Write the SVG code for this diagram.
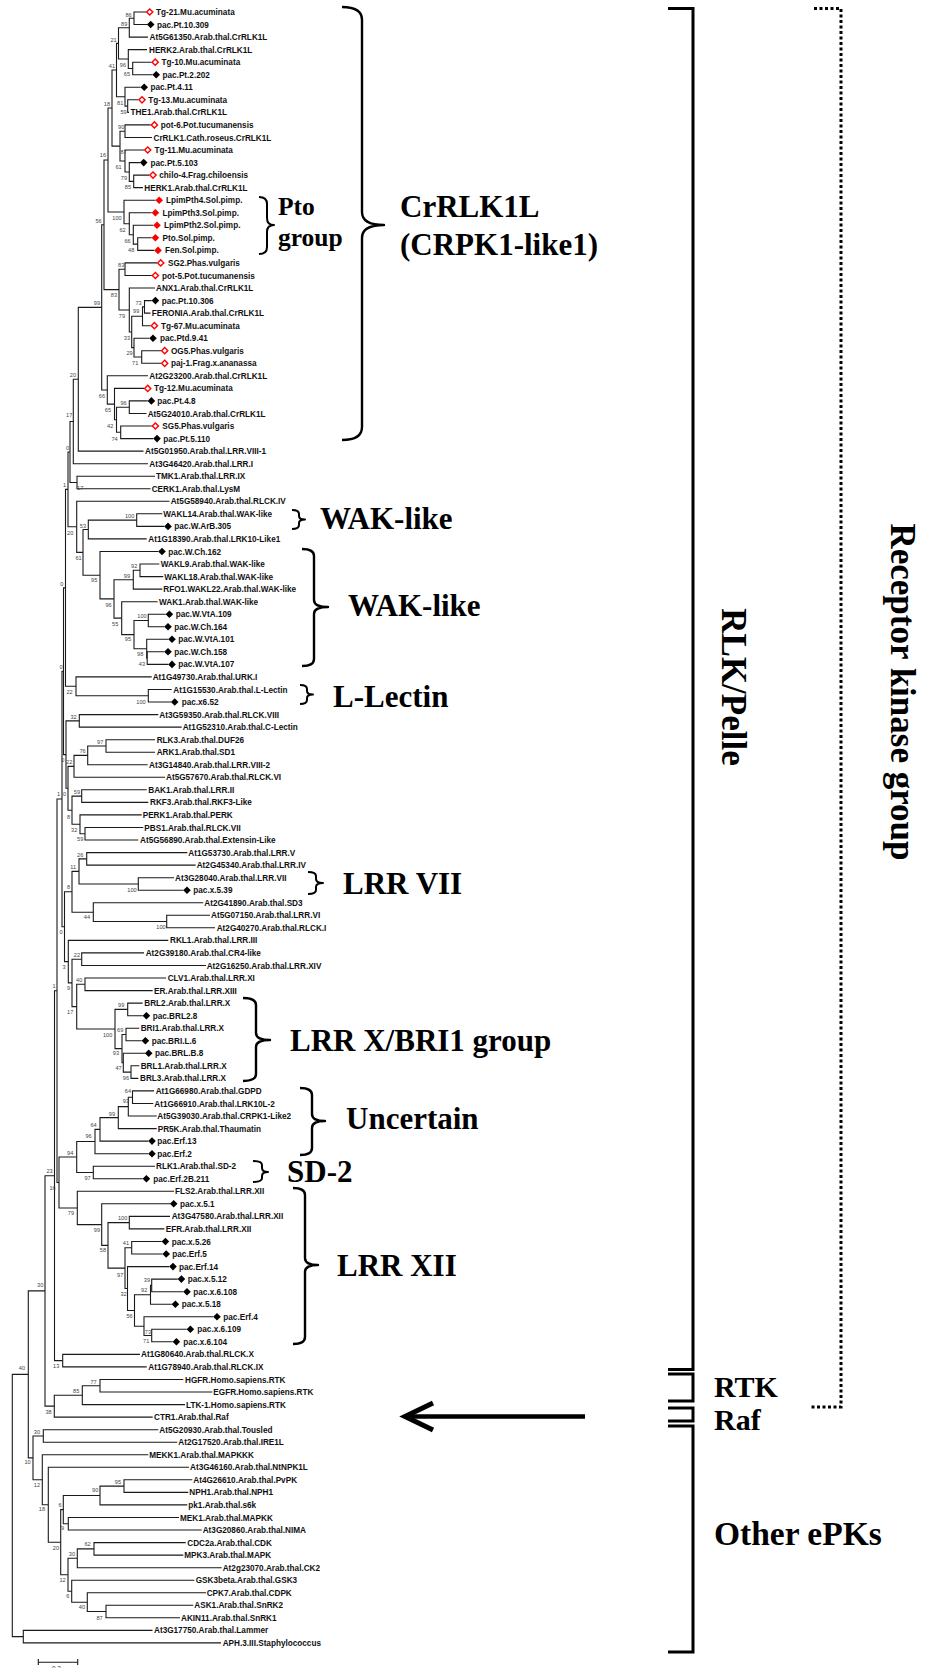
<svg xmlns="http://www.w3.org/2000/svg" width="930" height="1668" viewBox="0 0 930 1668">
<defs>
<style>
.br{fill:none;stroke:#1a1a1a;stroke-width:1.1}
.lf{font-family:"Liberation Sans",Arial,sans-serif;font-weight:bold;font-size:8.2px;fill:#111}
.bs{font-family:"Liberation Sans",Arial,sans-serif;font-size:5.6px;fill:#444;text-anchor:end}
.big{font-family:"Liberation Serif","Times New Roman",serif;font-weight:bold;font-size:31px;fill:#000}
.mid{font-size:25.5px}
.brace{fill:none;stroke:#000;stroke-width:2.4;stroke-linejoin:round}
.sq{fill:none;stroke:#000;stroke-width:3}
.dot{fill:none;stroke:#000;stroke-width:3;stroke-dasharray:3 2.5}
</style>
<path id="bk" d="M0,-3.8L3.8,0L0,3.8L-3.8,0Z" fill="#000"/>
<path id="rf" d="M0,-3.8L3.8,0L0,3.8L-3.8,0Z" fill="#ff0000"/>
<path id="ro" d="M0,-3.1L3.1,0L0,3.1L-3.1,0Z" fill="#fff" stroke="#ff0000" stroke-width="1.4"/>
</defs>
<rect width="930" height="1668" fill="#fff"/>
<g id="connectors" class="br">
<path d="M146,12H134V24.5H147"/><path d="M134,18.25H129.3V37.1H148"/><path d="M151.5,62.2H132.7V74.7H152.5"/><path d="M147,49.6H128.3V68.45H132.7"/><path d="M129.3,27.7H118.5V59H128.3"/><path d="M138.3,99.8H127.7V112.4H129"/><path d="M140.5,87.3H125V106.1H127.7"/><path d="M118.5,43.35H116.5V96.7H125"/><path d="M150.7,124.9H125V137.5H152"/><path d="M149.3,175.1H133.7V187.6H143"/><path d="M140,162.6H129.3V181.35H133.7"/><path d="M144,150H125V172H129.3"/><path d="M125,131.2H120V161H125"/><path d="M116.5,70H112V146.1H120"/>
<path d="M151.7,237.8H137.7V250.4H154.3"/><path d="M153.3,225.3H133.3V244.1H137.7"/><path d="M151.7,212.7H129.3V234.7H133.3"/><path d="M155.5,200.2H124V223.7H129.3"/><path d="M112,108.05H108V211.95H124"/>
<path d="M157,262.9H125V275.5H151.7"/><path d="M151.7,300.6H144.5V313.1H150.5"/><path d="M144.5,306.85H142.5V325.7H150.7"/><path d="M161,350.7H141.7V363.3H161"/><path d="M149.3,338.2H134V357H141.7"/><path d="M142.5,316.3H131.7V347.6H134"/><path d="M155,288H129.3V331.95H131.7"/><path d="M125,269.2H119V310H129.3"/><path d="M108,160H104V289.6H119"/>
<path d="M147.7,400.9H129.3V413.5H146.5"/><path d="M151.7,426H120.7V438.6H153.3"/><path d="M129.3,407.2H116.5V432.3H120.7"/><path d="M144,388.4H114.5V419.75H116.5"/><path d="M148,375.8H107.3V404.1H114.5"/><path d="M104,224.8H101.7V389.95H107.3"/>
<path d="M101.7,307.4H78.3V451.1H143.5"/><path d="M78.3,379.25H73.3V463.7H148"/><path d="M155,476.2H77V488.7H150.5"/><path d="M73.3,421.5H70V482.45H77"/>
<path d="M162.3,513.8H136.7V526.4H164.3"/><path d="M136.7,520.1H88.3V538.9H146.7"/><path d="M159.3,564H140V576.6H163.3"/><path d="M140,570.3H133.3V589.1H162.3"/><path d="M165.7,614.2H148.3V626.8H164.3"/><path d="M164.3,651.8H147.2V664.4H168.3"/><path d="M168.3,639.3H146.7V658.1H147.2"/><path d="M148.3,620.5H134V648.7H146.7"/><path d="M157.7,601.7H121.7V634.6H134"/><path d="M133.3,579.7H114V618.15H121.7"/><path d="M158.3,551.5H100V598.9H114"/><path d="M88.3,529.5H83V575.2H100"/><path d="M169.5,501.3H76.7V552.35H83"/><path d="M70,451.98H68V526.8H76.7"/>
<path d="M171.7,689.5H148.3V702H171"/><path d="M151.7,676.9H76V695.75H148.3"/><path d="M68,489.4H65.5V686.3H76"/>
<path d="M158.3,714.6H79.3V727.1H181.7"/><path d="M155,739.7H106V752.2H155"/><path d="M106,745.95H87.7V764.8H147.7"/><path d="M87.7,755.4H74V777.3H165"/><path d="M146.7,789.8H81.7V802.4H148.3"/><path d="M143.3,827.5H85V840H138.3"/><path d="M141.7,814.9H80V833.75H85"/><path d="M81.7,796.1H72V824.3H80"/><path d="M74,766.35H68V810.2H72"/><path d="M79.3,720.85H66V788.3H68"/><path d="M65.5,587.85H63.5V754.6H66"/>
<path d="M187.3,852.6H86.7V865.1H195.7"/><path d="M174,877.7H138.3V890.2H183.3"/><path d="M86.7,858.85H79V883.95H138.3"/><path d="M210,915.3H166.7V927.8H215"/><path d="M203.3,902.8H93.3V921.55H166.7"/><path d="M79,871.4H72V912.2H93.3"/>
<path d="M144,952.9H81.7V965.5H206"/><path d="M166,978H85V990.6H152.7"/><path d="M142.7,1003.1H127.7V1015.7H142.7"/><path d="M139.3,1028.2H126V1040.8H141.7"/><path d="M139.3,1065.8H131V1078.4H138.3"/><path d="M145,1053.3H123.3V1072.1H131"/><path d="M126,1034.5H122V1062.7H123.3"/><path d="M127.7,1009.4H115V1048.6H122"/><path d="M85,984.3H76.7V1029H115"/><path d="M81.7,959.2H72V1006.65H76.7"/><path d="M168.3,940.4H68.3V982.9H72"/><path d="M72,891.8H64.5V961.65H68.3"/><path d="M63.5,671.2H62V926.7H64.5"/>
<path d="M154,1090.9H132.5V1103.5H153.3"/><path d="M132.5,1097.2H128.3V1116H156.7"/><path d="M128.3,1106.6H118.3V1128.6H156.7"/><path d="M118.3,1117.6H100V1141.1H148.3"/><path d="M100,1129.35H95V1153.7H148.3"/><path d="M155,1166.2H93.3V1178.8H142.7"/><path d="M95,1141.5H76.7V1172.5H93.3"/>
<path d="M170,1216.4H129.3V1228.9H164.3"/><path d="M161.7,1241.5H131.7V1254H162.5"/><path d="M177.7,1279.1H151.7V1291.7H183.3"/><path d="M151.7,1285.4H150.5V1304.2H171.7"/><path d="M186.7,1329.3H151.7V1341.8H172.7"/><path d="M213.3,1316.8H144V1335.55H151.7"/><path d="M150.5,1294.8H134.5V1326.2H144"/><path d="M169.3,1266.6H127.5V1310.5H134.5"/><path d="M131.7,1247.75H125V1288.55H127.5"/><path d="M129.3,1222.65H108V1268.15H125"/><path d="M170,1203.8H101.7V1245.4H108"/><path d="M174,1191.3H77.3V1224.6H101.7"/><path d="M76.7,1157H59V1207.95H77.3"/><path d="M62,798.95H57V1182.5H59"/>
<path d="M140,1354.4H62.7V1366.9H146.7"/><path d="M57,990.7H54.5V1360.65H62.7"/>
<path d="M183.3,1379.5H100V1392H212.3"/><path d="M100,1385.75H82.3V1404.6H185"/><path d="M82.3,1395.2H54.3V1417.1H152.7"/><path d="M54.5,1175.7H45V1406.15H54.3"/>
<path d="M158.3,1429.7H43.3V1442.2H177.3"/><path d="M192.3,1479.8H124V1492.4H188.3"/><path d="M124,1486.1H100V1504.9H187.3"/><path d="M179,1517.5H68.3V1530H201.7"/><path d="M100,1495.5H63.3V1523.75H68.3"/><path d="M185.7,1542.6H94V1555.1H183.3"/><path d="M94,1548.85H77.3V1567.7H221.7"/><path d="M193.3,1605.3H106V1617.8H180"/><path d="M206,1592.8H87.3V1611.55H106"/><path d="M194.3,1580.2H71.7V1602.2H87.3"/><path d="M77.3,1558.3H68V1591.2H71.7"/><path d="M63.3,1509.6H60.7V1574.75H68"/><path d="M189,1467.3H48.3V1542.2H60.7"/><path d="M148.3,1454.8H42.3V1504.75H48.3"/><path d="M43.3,1435.95H33V1479.8H42.3"/><path d="M45,1290.9H28.3V1457.9H33"/>
<path d="M152.5,1630.4H23.3V1642.9H221"/><path d="M28.3,1374.4H12.3V1636.65H23.3"/>
<path d="M38.3,1659V1665M38.3,1662.3H77.7M77.7,1659V1665"/>
</g>
<g id="bootstrap" class="bs">
<text x="131.7" y="17">86</text><text x="127.3" y="26">89</text><text x="116.7" y="42">21</text><text x="115" y="68">41</text><text x="126" y="67">96</text><text x="130" y="76">65</text><text x="110" y="106">18</text><text x="123.3" y="104.7">81</text><text x="126.7" y="113.7">59</text><text x="124.3" y="129">90</text><text x="106" y="157">16</text><text x="126.7" y="153.7">87</text><text x="121.7" y="168.7">61</text><text x="127" y="180">79</text><text x="131" y="188.7">85</text><text x="101.7" y="222.7">56</text><text x="121.7" y="219.7">100</text><text x="125.7" y="231.7">62</text><text x="130.7" y="242.7">66</text><text x="134.3" y="252">48</text><text x="124.3" y="267">83</text><text x="117" y="296.7">83</text><text x="100" y="305">99</text><text x="141.7" y="305">73</text><text x="139.3" y="313.3">99</text><text x="125" y="317.7">79</text><text x="130" y="340">33</text><text x="132.7" y="355">29</text><text x="138.3" y="365">71</text><text x="76" y="377.3">20</text><text x="126.7" y="405.3">96</text><text x="105" y="397.7">66</text><text x="111" y="412">65</text><text x="72.3" y="417.3">17</text><text x="113.3" y="428">42</text><text x="117.7" y="440.7">74</text><text x="69" y="450">0</text><text x="66" y="487.3">1</text><text x="83.3" y="489.7">17</text><text x="134.3" y="518">100</text><text x="86" y="528.3">53</text><text x="73.3" y="535">20</text><text x="81.7" y="559.7">61</text><text x="137.3" y="568">92</text><text x="130" y="578">99</text><text x="63.3" y="586.3">0</text><text x="97.3" y="582.3">95</text><text x="111.7" y="607">96</text><text x="146.7" y="618">100</text><text x="118.3" y="626.3">55</text><text x="131" y="641.3">95</text><text x="143.3" y="655.7">98</text><text x="145" y="665.7">43</text><text x="62.7" y="669">0</text><text x="72.7" y="693.7">22</text><text x="145.7" y="703.7">100</text><text x="76.7" y="718.7">32</text><text x="103.3" y="743.7">97</text><text x="85.7" y="753">76</text><text x="64.3" y="762">0</text><text x="72.3" y="763.7">22</text><text x="60" y="796.3">1</text><text x="66" y="796.3">0</text><text x="80" y="793.7">59</text><text x="70" y="818.7">8</text><text x="77.3" y="832">32</text><text x="83.3" y="841">59</text><text x="83.3" y="856.7">26</text><text x="76" y="869.3">11</text><text x="70" y="889.3">8</text><text x="136.7" y="892">100</text><text x="90" y="919.3">44</text><text x="165.7" y="928.7">100</text><text x="62.7" y="934.3">0</text><text x="80" y="956.7">22</text><text x="65.7" y="968.7">3</text><text x="82.3" y="981.7">40</text><text x="55.7" y="988.3">1</text><text x="70" y="990">9</text><text x="124.3" y="1006.7">99</text><text x="73.3" y="1014">17</text><text x="123.3" y="1031.7">69</text><text x="112.3" y="1036.7">100</text><text x="119" y="1055">93</text><text x="121.7" y="1070">47</text><text x="129" y="1080">96</text><text x="131" y="1093">64</text><text x="129" y="1103.3">93</text><text x="115" y="1115.7">99</text><text x="96.7" y="1126.7">64</text><text x="91.7" y="1138.3">96</text><text x="73.3" y="1155">94</text><text x="52.7" y="1173">23</text><text x="90.7" y="1180">97</text><text x="55.7" y="1190">16</text><text x="74" y="1214.7">79</text><text x="127.3" y="1220">100</text><text x="100" y="1231.7">99</text><text x="129" y="1245">41</text><text x="106" y="1251.5">58</text><text x="123.3" y="1277">97</text><text x="150" y="1282.3">39</text><text x="147.3" y="1292">92</text><text x="43.3" y="1287.3">30</text><text x="126.7" y="1295.7">32</text><text x="132.7" y="1318">56</text><text x="151" y="1333.7">73</text><text x="149.3" y="1343">71</text><text x="59.3" y="1368">13</text><text x="25" y="1370.3">40</text><text x="96.7" y="1383.7">77</text><text x="79.3" y="1393">85</text><text x="51.7" y="1413.7">38</text><text x="40" y="1433.7">30</text><text x="121" y="1483.7">95</text><text x="40" y="1487">12</text><text x="98.3" y="1492">90</text><text x="30.7" y="1463.7">10</text><text x="61.7" y="1507">6</text><text x="45" y="1511.3">18</text><text x="64" y="1530.3">9</text><text x="90.7" y="1545.7">62</text><text x="59" y="1550">20</text><text x="75" y="1555.7">30</text><text x="65.7" y="1581.7">12</text><text x="69.3" y="1597.7">6</text><text x="85" y="1609">40</text><text x="102.7" y="1620">87</text>
<text x="61" y="1671" style="font-size:6.5px">0.2</text>
</g>
<g id="leaves" class="lf">
<g id="leaf1"><use href="#ro" x="149.7" y="12"/><text x="156" y="15">Tg-21.Mu.acuminata</text></g>
<g id="leaf2"><use href="#bk" x="150.7" y="24.5"/><text x="157" y="27.5">pac.Pt.10.309</text></g>
<g id="leaf3"><text x="149.5" y="40.1">At5G61350.Arab.thal.CrRLK1L</text></g>
<g id="leaf4"><text x="149" y="52.6">HERK2.Arab.thal.CrRLK1L</text></g>
<g id="leaf5"><use href="#ro" x="155.2" y="62.2"/><text x="161.5" y="65.2">Tg-10.Mu.acuminata</text></g>
<g id="leaf6"><use href="#bk" x="156.2" y="74.7"/><text x="162.5" y="77.7">pac.Pt.2.202</text></g>
<g id="leaf7"><use href="#bk" x="144.2" y="87.3"/><text x="150.5" y="90.3">pac.Pt.4.11</text></g>
<g id="leaf8"><use href="#ro" x="142" y="99.8"/><text x="148.3" y="102.8">Tg-13.Mu.acuminata</text></g>
<g id="leaf9"><text x="130.5" y="115.4">THE1.Arab.thal.CrRLK1L</text></g>
<g id="leaf10"><use href="#ro" x="154.4" y="124.9"/><text x="160.7" y="127.9">pot-6.Pot.tucumanensis</text></g>
<g id="leaf11"><text x="153.5" y="140.5">CrRLK1.Cath.roseus.CrRLK1L</text></g>
<g id="leaf12"><use href="#ro" x="147.7" y="150"/><text x="154.5" y="153">Tg-11.Mu.acuminata</text></g>
<g id="leaf13"><use href="#bk" x="143.7" y="162.6"/><text x="150.5" y="165.6">pac.Pt.5.103</text></g>
<g id="leaf14"><use href="#ro" x="153" y="175.1"/><text x="159.3" y="178.1">chilo-4.Frag.chiloensis</text></g>
<g id="leaf15"><text x="144.3" y="190.6">HERK1.Arab.thal.CrRLK1L</text></g>
<g id="leaf16"><use href="#rf" x="159.2" y="200.2"/><text x="166" y="203.2">LpimPth4.Sol.pimp.</text></g>
<g id="leaf17"><use href="#rf" x="155.4" y="212.7"/><text x="162.5" y="215.7">LpimPth3.Sol.pimp.</text></g>
<g id="leaf18"><use href="#rf" x="157" y="225.3"/><text x="164" y="228.3">LpimPth2.Sol.pimp.</text></g>
<g id="leaf19"><use href="#rf" x="155.4" y="237.8"/><text x="162.5" y="240.8">Pto.Sol.pimp.</text></g>
<g id="leaf20"><use href="#rf" x="158" y="250.4"/><text x="165" y="253.4">Fen.Sol.pimp.</text></g>
<g id="leaf21"><use href="#ro" x="160.7" y="262.9"/><text x="168" y="265.9">SG2.Phas.vulgaris</text></g>
<g id="leaf22"><use href="#ro" x="155.4" y="275.5"/><text x="162" y="278.5">pot-5.Pot.tucumanensis</text></g>
<g id="leaf23"><text x="156" y="291">ANX1.Arab.thal.CrRLK1L</text></g>
<g id="leaf24"><use href="#bk" x="155.4" y="300.6"/><text x="161.7" y="303.6">pac.Pt.10.306</text></g>
<g id="leaf25"><text x="151.7" y="316.1">FERONIA.Arab.thal.CrRLK1L</text></g>
<g id="leaf26"><use href="#ro" x="154.4" y="325.7"/><text x="161" y="328.7">Tg-67.Mu.acuminata</text></g>
<g id="leaf27"><use href="#bk" x="153" y="338.2"/><text x="160" y="341.2">pac.Ptd.9.41</text></g>
<g id="leaf28"><use href="#ro" x="164.7" y="350.7"/><text x="171" y="353.7">OG5.Phas.vulgaris</text></g>
<g id="leaf29"><use href="#ro" x="164.7" y="363.3"/><text x="171" y="366.3">paj-1.Frag.x.ananassa</text></g>
<g id="leaf30"><text x="149.3" y="378.8">At2G23200.Arab.thal.CrRLK1L</text></g>
<g id="leaf31"><use href="#ro" x="147.7" y="388.4"/><text x="154" y="391.4">Tg-12.Mu.acuminata</text></g>
<g id="leaf32"><use href="#bk" x="151.4" y="400.9"/><text x="157.3" y="403.9">pac.Pt.4.8</text></g>
<g id="leaf33"><text x="147.7" y="416.5">At5G24010.Arab.thal.CrRLK1L</text></g>
<g id="leaf34"><use href="#ro" x="155.4" y="426"/><text x="162.3" y="429">SG5.Phas.vulgaris</text></g>
<g id="leaf35"><use href="#bk" x="157" y="438.6"/><text x="163.3" y="441.6">pac.Pt.5.110</text></g>
<g id="leaf36"><text x="145" y="454.1">At5G01950.Arab.thal.LRR.VIII-1</text></g>
<g id="leaf37"><text x="149.3" y="466.7">At3G46420.Arab.thal.LRR.I</text></g>
<g id="leaf38"><text x="156" y="479.2">TMK1.Arab.thal.LRR.IX</text></g>
<g id="leaf39"><text x="151.7" y="491.7">CERK1.Arab.thal.LysM</text></g>
<g id="leaf40"><text x="170.7" y="504.3">At5G58940.Arab.thal.RLCK.IV</text></g>
<g id="leaf41"><text x="163.3" y="516.8">WAKL14.Arab.thal.WAK-like</text></g>
<g id="leaf42"><use href="#bk" x="168" y="526.4"/><text x="174.3" y="529.4">pac.W.ArB.305</text></g>
<g id="leaf43"><text x="148.3" y="541.9">At1G18390.Arab.thal.LRK10-Like1</text></g>
<g id="leaf44"><use href="#bk" x="162" y="551.5"/><text x="168.3" y="554.5">pac.W.Ch.162</text></g>
<g id="leaf45"><text x="160.7" y="567">WAKL9.Arab.thal.WAK-like</text></g>
<g id="leaf46"><text x="164.3" y="579.6">WAKL18.Arab.thal.WAK-like</text></g>
<g id="leaf47"><text x="163.3" y="592.1">RFO1.WAKL22.Arab.thal.WAK-like</text></g>
<g id="leaf48"><text x="159" y="604.7">WAK1.Arab.thal.WAK-like</text></g>
<g id="leaf49"><use href="#bk" x="169.4" y="614.2"/><text x="175.7" y="617.2">pac.W.VtA.109</text></g>
<g id="leaf50"><use href="#bk" x="168" y="626.8"/><text x="174.3" y="629.8">pac.W.Ch.164</text></g>
<g id="leaf51"><use href="#bk" x="172" y="639.3"/><text x="178.3" y="642.3">pac.W.VtA.101</text></g>
<g id="leaf52"><use href="#bk" x="168" y="651.8"/><text x="174.3" y="654.8">pac.W.Ch.158</text></g>
<g id="leaf53"><use href="#bk" x="172" y="664.4"/><text x="178.3" y="667.4">pac.W.VtA.107</text></g>
<g id="leaf54"><text x="152.7" y="679.9">At1G49730.Arab.thal.URK.I</text></g>
<g id="leaf55"><text x="173.3" y="692.5">At1G15530.Arab.thal.L-Lectin</text></g>
<g id="leaf56"><use href="#bk" x="174.7" y="702"/><text x="181.7" y="705">pac.x6.52</text></g>
<g id="leaf57"><text x="159.3" y="717.6">At3G59350.Arab.thal.RLCK.VIII</text></g>
<g id="leaf58"><text x="182.7" y="730.1">At1G52310.Arab.thal.C-Lectin</text></g>
<g id="leaf59"><text x="156.7" y="742.7">RLK3.Arab.thal.DUF26</text></g>
<g id="leaf60"><text x="156.7" y="755.2">ARK1.Arab.thal.SD1</text></g>
<g id="leaf61"><text x="149" y="767.8">At3G14840.Arab.thal.LRR.VIII-2</text></g>
<g id="leaf62"><text x="166" y="780.3">At5G57670.Arab.thal.RLCK.VI</text></g>
<g id="leaf63"><text x="148.3" y="792.8">BAK1.Arab.thal.LRR.II</text></g>
<g id="leaf64"><text x="150" y="805.4">RKF3.Arab.thal.RKF3-Like</text></g>
<g id="leaf65"><text x="142.7" y="817.9">PERK1.Arab.thal.PERK</text></g>
<g id="leaf66"><text x="144.3" y="830.5">PBS1.Arab.thal.RLCK.VII</text></g>
<g id="leaf67"><text x="140" y="843">At5G56890.Arab.thal.Extensin-Like</text></g>
<g id="leaf68"><text x="188.3" y="855.6">At1G53730.Arab.thal.LRR.V</text></g>
<g id="leaf69"><text x="196.7" y="868.1">At2G45340.Arab.thal.LRR.IV</text></g>
<g id="leaf70"><text x="175" y="880.7">At3G28040.Arab.thal.LRR.VII</text></g>
<g id="leaf71"><use href="#bk" x="187" y="890.2"/><text x="193.3" y="893.2">pac.x.5.39</text></g>
<g id="leaf72"><text x="204.3" y="905.8">At2G41890.Arab.thal.SD3</text></g>
<g id="leaf73"><text x="211" y="918.3">At5G07150.Arab.thal.LRR.VI</text></g>
<g id="leaf74"><text x="216.7" y="930.8">At2G40270.Arab.thal.RLCK.I</text></g>
<g id="leaf75"><text x="170" y="943.4">RKL1.Arab.thal.LRR.III</text></g>
<g id="leaf76"><text x="145.7" y="955.9">At2G39180.Arab.thal.CR4-like</text></g>
<g id="leaf77"><text x="206.7" y="968.5">At2G16250.Arab.thal.LRR.XIV</text></g>
<g id="leaf78"><text x="167.7" y="981">CLV1.Arab.thal.LRR.XI</text></g>
<g id="leaf79"><text x="154" y="993.6">ER.Arab.thal.LRR.XIII</text></g>
<g id="leaf80"><text x="144.3" y="1006.1">BRL2.Arab.thal.LRR.X</text></g>
<g id="leaf81"><use href="#bk" x="146.4" y="1015.7"/><text x="152.7" y="1018.7">pac.BRL2.8</text></g>
<g id="leaf82"><text x="140.7" y="1031.2">BRI1.Arab.thal.LRR.X</text></g>
<g id="leaf83"><use href="#bk" x="145.4" y="1040.8"/><text x="151.7" y="1043.8">pac.BRI.L.6</text></g>
<g id="leaf84"><use href="#bk" x="148.7" y="1053.3"/><text x="155" y="1056.3">pac.BRL.B.8</text></g>
<g id="leaf85"><text x="140.7" y="1068.8">BRL1.Arab.thal.LRR.X</text></g>
<g id="leaf86"><text x="140" y="1081.4">BRL3.Arab.thal.LRR.X</text></g>
<g id="leaf87"><text x="155.7" y="1093.9">At1G66980.Arab.thal.GDPD</text></g>
<g id="leaf88"><text x="154.3" y="1106.5">At1G66910.Arab.thal.LRK10L-2</text></g>
<g id="leaf89"><text x="157.3" y="1119">At5G39030.Arab.thal.CRPK1-Like2</text></g>
<g id="leaf90"><text x="157.7" y="1131.6">PR5K.Arab.thal.Thaumatin</text></g>
<g id="leaf91"><use href="#bk" x="152" y="1141.1"/><text x="157.3" y="1144.1">pac.Erf.13</text></g>
<g id="leaf92"><use href="#bk" x="152" y="1153.7"/><text x="157.3" y="1156.7">pac.Erf.2</text></g>
<g id="leaf93"><text x="156" y="1169.2">RLK1.Arab.thal.SD-2</text></g>
<g id="leaf94"><use href="#bk" x="146.4" y="1178.8"/><text x="153.3" y="1181.8">pac.Erf.2B.211</text></g>
<g id="leaf95"><text x="175" y="1194.3">FLS2.Arab.thal.LRR.XII</text></g>
<g id="leaf96"><use href="#bk" x="173.7" y="1203.8"/><text x="180" y="1206.8">pac.x.5.1</text></g>
<g id="leaf97"><text x="171.7" y="1219.4">At3G47580.Arab.thal.LRR.XII</text></g>
<g id="leaf98"><text x="165.7" y="1231.9">EFR.Arab.thal.LRR.XII</text></g>
<g id="leaf99"><use href="#bk" x="165.4" y="1241.5"/><text x="171.7" y="1244.5">pac.x.5.26</text></g>
<g id="leaf100"><use href="#bk" x="166.2" y="1254"/><text x="172.3" y="1257">pac.Erf.5</text></g>
<g id="leaf101"><use href="#bk" x="173" y="1266.6"/><text x="179" y="1269.6">pac.Erf.14</text></g>
<g id="leaf102"><use href="#bk" x="181.4" y="1279.1"/><text x="187.7" y="1282.1">pac.x.5.12</text></g>
<g id="leaf103"><use href="#bk" x="187" y="1291.7"/><text x="193.3" y="1294.7">pac.x.6.108</text></g>
<g id="leaf104"><use href="#bk" x="175.4" y="1304.2"/><text x="181.7" y="1307.2">pac.x.5.18</text></g>
<g id="leaf105"><use href="#bk" x="217" y="1316.8"/><text x="223.3" y="1319.8">pac.Erf.4</text></g>
<g id="leaf106"><use href="#bk" x="190.4" y="1329.3"/><text x="197.3" y="1332.3">pac.x.6.109</text></g>
<g id="leaf107"><use href="#bk" x="176.4" y="1341.8"/><text x="183.3" y="1344.8">pac.x.6.104</text></g>
<g id="leaf108"><text x="141" y="1357.4">At1G80640.Arab.thal.RLCK.X</text></g>
<g id="leaf109"><text x="148.3" y="1369.9">At1G78940.Arab.thal.RLCK.IX</text></g>
<g id="leaf110"><text x="185" y="1382.5">HGFR.Homo.sapiens.RTK</text></g>
<g id="leaf111"><text x="213.3" y="1395">EGFR.Homo.sapiens.RTK</text></g>
<g id="leaf112"><text x="186" y="1407.6">LTK-1.Homo.sapiens.RTK</text></g>
<g id="leaf113"><text x="154" y="1420.1">CTR1.Arab.thal.Raf</text></g>
<g id="leaf114"><text x="159.3" y="1432.7">At5G20930.Arab.thal.Tousled</text></g>
<g id="leaf115"><text x="178.3" y="1445.2">At2G17520.Arab.thal.IRE1L</text></g>
<g id="leaf116"><text x="149.3" y="1457.8">MEKK1.Arab.thal.MAPKKK</text></g>
<g id="leaf117"><text x="190" y="1470.3">At3G46160.Arab.thal.NtNPK1L</text></g>
<g id="leaf118"><text x="193.3" y="1482.8">At4G26610.Arab.thal.PvPK</text></g>
<g id="leaf119"><text x="189.3" y="1495.4">NPH1.Arab.thal.NPH1</text></g>
<g id="leaf120"><text x="188.3" y="1507.9">pk1.Arab.thal.s6k</text></g>
<g id="leaf121"><text x="180" y="1520.5">MEK1.Arab.thal.MAPKK</text></g>
<g id="leaf122"><text x="202.7" y="1533">At3G20860.Arab.thal.NIMA</text></g>
<g id="leaf123"><text x="187.3" y="1545.6">CDC2a.Arab.thal.CDK</text></g>
<g id="leaf124"><text x="184.3" y="1558.1">MPK3.Arab.thal.MAPK</text></g>
<g id="leaf125"><text x="222.7" y="1570.7">At2g23070.Arab.thal.CK2</text></g>
<g id="leaf126"><text x="195.7" y="1583.2">GSK3beta.Arab.thal.GSK3</text></g>
<g id="leaf127"><text x="206.7" y="1595.8">CPK7.Arab.thal.CDPK</text></g>
<g id="leaf128"><text x="194.3" y="1608.3">ASK1.Arab.thal.SnRK2</text></g>
<g id="leaf129"><text x="181" y="1620.8">AKIN11.Arab.thal.SnRK1</text></g>
<g id="leaf130"><text x="154" y="1633.4">At3G17750.Arab.thal.Lammer</text></g>
<g id="leaf131"><text x="222.7" y="1645.9">APH.3.III.Staphylococcus</text></g>
</g>
<g id="clade-braces" class="brace">
<path d="M342,7Q362,7 362,20V212Q362,225 384,225Q362,225 362,238V427Q362,440 342,440"/>
<path d="M259,197Q267,197 267,204V218Q267,225 274,225Q267,225 267,232V247Q267,254 259,254" style="stroke-width:2"/>
<path d="M292,510Q299,510 299,514V516Q299,519.5 305,519.5Q299,519.5 299,523V525Q299,529 292,529" style="stroke-width:2"/>
<path d="M302,549Q314,549 314,556V600Q314,607 328,607Q314,607 314,614V659Q314,666 302,666"/>
<path d="M300,685Q307,685 307,689V691Q307,694.5 313,694.5Q307,694.5 307,698V700Q307,704 300,704" style="stroke-width:2"/>
<path d="M308,872Q316,872 316,876V879Q316,883 323,883Q316,883 316,887V890Q316,894 308,894" style="stroke-width:2"/>
<path d="M243,998Q256,998 256,1005V1033Q256,1040 270,1040Q256,1040 256,1047V1074Q256,1081 243,1081"/>
<path d="M300,1088Q312,1088 312,1095V1114Q312,1121 325,1121Q312,1121 312,1128V1148Q312,1155 300,1155"/>
<path d="M253,1161Q262,1161 262,1165V1168Q262,1172 268,1172Q262,1172 262,1176V1178Q262,1182 253,1182" style="stroke-width:2"/>
<path d="M293,1188Q305,1188 305,1195V1258Q305,1265 318,1265Q305,1265 305,1272V1337Q305,1344 293,1344"/>
</g>
<g id="group-brackets">
<path class="sq" d="M668,8.5H693V1369.5H668"/>
<path class="sq" d="M668,1374H693V1401H668"/>
<path class="sq" d="M668,1408H693V1421H668"/>
<path class="sq" d="M668,1426H693V1652H668"/>
<path class="dot" d="M814,8.5H841V1407H811"/>
</g>
<g id="arrow">
<path d="M410,1416.5H585" fill="none" stroke="#000" stroke-width="4.5"/>
<path d="M433,1403L405,1416.5L433,1430" fill="none" stroke="#000" stroke-width="5"/>
</g>
<g id="clade-labels" class="big">
<text x="278" y="215" class="mid">Pto</text>
<text x="278" y="246" class="mid">group</text>
<text x="400" y="217">CrRLK1L</text>
<text x="400" y="255">(CRPK1-like1)</text>
<text x="320" y="529">WAK-like</text>
<text x="348" y="616">WAK-like</text>
<text x="333" y="707">L-Lectin</text>
<text x="343" y="894">LRR VII</text>
<text x="290" y="1051">LRR X/BRI1 group</text>
<text x="346" y="1129">Uncertain</text>
<text x="287" y="1182">SD-2</text>
<text x="337" y="1276">LRR XII</text>
<text x="714" y="1397" style="font-size:30px">RTK</text>
<text x="714" y="1430" style="font-size:30px">Raf</text>
<text x="714" y="1545" style="font-size:33.5px">Other ePKs</text>
<text transform="translate(722,687) rotate(90)" text-anchor="middle" style="font-size:35px">RLK/Pelle</text>
<text transform="translate(891,692) rotate(90)" text-anchor="middle" style="font-size:35px">Receptor kinase group</text>
</g>
</svg>
